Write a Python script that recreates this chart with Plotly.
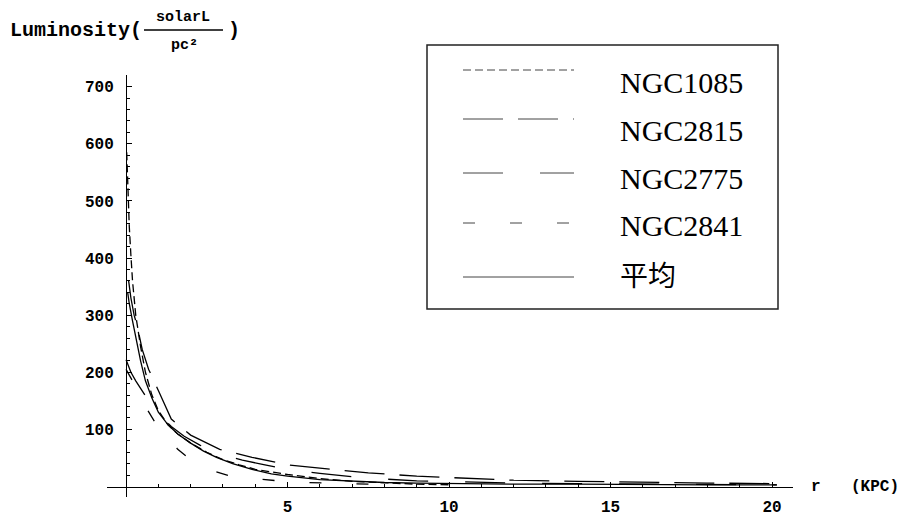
import plotly.graph_objects as go

W, H = 909, 520

# ---------------- data ----------------
names = ["NGC1085", "NGC2815", "NGC2775", "NGC2841", "平均"]

r_1085 = [0.02, 0.04, 0.07, 0.1, 0.15, 0.2, 0.3, 0.45, 0.6, 0.8, 1.0, 1.3, 1.6, 2.0, 2.5, 3.0, 3.5,
          4.0, 5.0, 6.0, 7.0, 8.0, 9.0, 10.0]
v_1085 = [585, 545, 500, 455, 405, 360, 300, 245, 200, 160, 133, 108, 92, 76, 60, 47, 38,
          30, 21, 14, 9, 6, 4, 3]

r_2815 = [0.08, 0.15, 0.25, 0.35, 0.5, 0.7, 1.0, 1.4, 2.0, 2.9, 3.9, 5.0, 6.0, 7.5, 9.0, 10.8,
          12.0, 14.0, 16.0, 18.0, 20.15]
v_2815 = [360, 330, 300, 280, 240, 205, 168, 118, 90, 65, 51, 38, 32, 24, 18, 14,
          11, 9, 7, 6, 5]

r_2775 = [0.0, 0.15, 0.3, 0.5, 0.7, 1.0, 1.4, 1.8, 2.3, 3.0, 3.6, 4.3, 5.0, 6.0, 7.0, 8.0, 9.0,
          10.5, 12.0, 14.0, 16.0, 18.0, 20.15]
v_2775 = [222, 200, 185, 168, 150, 128, 105, 88, 72, 56, 46, 38, 30, 23, 17, 13, 10,
          8, 6, 5, 4, 4, 3]

r_2841 = [0.0, 0.2, 0.4, 0.6, 0.9, 1.25, 1.6, 2.1, 2.7, 3.3, 4.0, 4.7, 5.5, 6.5, 7.5, 8.5]
v_2841 = [205, 185, 165, 140, 112, 90, 65, 42, 27, 17, 13, 10, 7, 5, 4, 3]

r_avg = [0.05, 0.1, 0.2, 0.3, 0.45, 0.6, 0.8, 1.0, 1.3, 1.6, 2.0, 2.4, 2.8, 3.3, 3.9, 4.5, 5.0,
         6.0, 7.0, 8.0, 9.0, 10.0, 12.0, 14.0, 16.0, 18.0, 20.15]
v_avg = [340, 320, 290, 260, 220, 185, 155, 130, 108, 92, 76, 62, 51, 40, 30, 22, 18,
         12, 9, 7, 6, 5, 4, 4, 3, 3, 3]

x_ticks = [5, 10, 15, 20]
x_minor = [1, 2, 3, 4, 6, 7, 8, 9, 11, 12, 13, 14, 16, 17, 18, 19]
y_ticks = [100, 200, 300, 400, 500, 600, 700]
y_minor = [v for v in range(20, 700, 20) if v % 100 != 0]

# ---------------- styles ----------------
dashes = ["8px,4px", "40px,15px", "40px,37px", "12px,35px", "solid"]
series = [(r_1085, v_1085), (r_2815, v_2815), (r_2775, v_2775), (r_2841, v_2841), (r_avg, v_avg)]

fig = go.Figure()
for nm, (rr, vv), ds in zip(names, series, dashes):
    fig.add_trace(go.Scatter(x=rr, y=vv, mode="lines", name=nm,
                             line=dict(color="black", width=1.3, dash=ds),
                             showlegend=False))

mono = "Liberation Mono"
tickfont = dict(family=mono, size=16, color="black", weight="bold")

def px(x):
    return x / W

def py(y):
    return 1 - y / H

fig.update_layout(
    width=W, height=H,
    margin=dict(l=0, r=0, t=0, b=0),
    paper_bgcolor="white", plot_bgcolor="white",
    xaxis=dict(domain=[107 / W, 793 / W], range=[-0.59, 20.65],
               anchor="free", position=1 - 486.5 / H,
               showline=True, linecolor="black", linewidth=1,
               showgrid=False, zeroline=False,
               tickmode="array", tickvals=x_ticks, ticktext=[str(t) for t in x_ticks],
               ticks="inside", ticklen=5, tickwidth=1, tickcolor="black",
               minor=dict(tickvals=x_minor, ticks="inside", ticklen=3, tickwidth=1, tickcolor="black"),
               tickfont=tickfont, ticklabelstandoff=5, automargin=False),
    yaxis=dict(domain=[1 - 497 / H, 1 - 75 / H], range=[-18.4, 720.5],
               anchor="free", position=126 / W,
               showline=True, linecolor="black", linewidth=1,
               showgrid=False, zeroline=False,
               tickmode="array", tickvals=y_ticks, ticktext=[str(t) for t in y_ticks],
               ticks="inside", ticklen=5, tickwidth=1, tickcolor="black",
               minor=dict(tickvals=y_minor, ticks="inside", ticklen=3, tickwidth=1, tickcolor="black"),
               tickfont=tickfont, ticklabelstandoff=9, automargin=False),
)

# ---------------- y-axis title (fraction) ----------------
ann = []
ann.append(dict(text="Luminosity(", x=px(8), y=py(30), xanchor="left", yanchor="middle",
                font=dict(family=mono, size=20, color="black", weight="bold")))
ann.append(dict(text="solarL", x=px(183), y=py(18), xanchor="center", yanchor="middle",
                font=dict(family=mono, size=15, color="black", weight="bold")))
ann.append(dict(text="pc²", x=px(184), y=py(45), xanchor="center", yanchor="middle",
                font=dict(family=mono, size=15, color="black", weight="bold")))
ann.append(dict(text=")", x=px(226), y=py(30), xanchor="left", yanchor="middle",
                font=dict(family=mono, size=20, color="black", weight="bold")))
# x-axis title
ann.append(dict(text="r", x=px(816), y=py(487), xanchor="center", yanchor="middle",
                font=dict(family=mono, size=16, color="black", weight="bold")))
ann.append(dict(text="(KPC)", x=px(875), y=py(487), xanchor="center", yanchor="middle",
                font=dict(family=mono, size=16, color="black", weight="bold")))

shapes = [dict(type="line", xref="paper", yref="paper", x0=px(144), x1=px(223), y0=py(30), y1=py(30),
               line=dict(color="black", width=1.5))]

# ---------------- legend box ----------------
shapes.append(dict(type="rect", xref="paper", yref="paper", x0=px(427), x1=px(778), y0=py(45), y1=py(309),
                   line=dict(color="#222222", width=1.5), fillcolor="rgba(0,0,0,0)"))
line_y = [70, 119, 173, 223, 277]
text_y = [82, 130, 178, 225, 274]
for nm, ds, ly, ty in zip(names, dashes, line_y, text_y):
    shapes.append(dict(type="line", xref="paper", yref="paper", x0=px(463), x1=px(574),
                       y0=py(ly), y1=py(ly), line=dict(color="#444444", width=1, dash=ds)))
    fam = "Noto Sans CJK SC" if nm == "平均" else "Liberation Serif"
    sz = 28 if nm == "平均" else 30
    ann.append(dict(text=nm, x=px(619), y=py(ty), xanchor="left", yanchor="middle", borderpad=0,
                    font=dict(family=fam, size=sz, color="black")))

for a in ann:
    a.update(xref="paper", yref="paper", showarrow=False)
fig.update_layout(annotations=ann, shapes=shapes)

fig.write_html("out.html")
